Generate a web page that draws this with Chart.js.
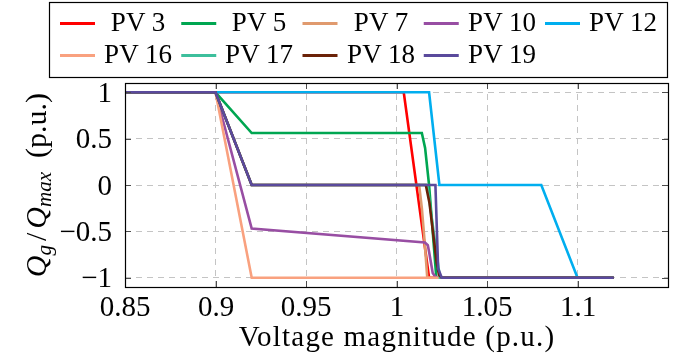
<!DOCTYPE html>
<html>
<head>
<meta charset="utf-8">
<script src="https://cdn.jsdelivr.net/npm/chart.js@4.4.1/dist/chart.umd.min.js"></script>
<style>
html,body{margin:0;padding:0;background:#ffffff;}
#wrap{width:686px;height:362px;position:relative;overflow:hidden;}
#c{position:absolute;left:0;top:0;z-index:1;}
#overlay{position:absolute;left:0;top:0;width:686px;height:362px;z-index:2;pointer-events:none;}
.lbl{position:absolute;white-space:nowrap;font-family:'Liberation Serif';font-size:18px;line-height:18px;color:#000;font-style:normal;}
.lbl i{font-style:italic;}
.lbl .sub{font-size:12.6px;position:relative;top:3px;}
</style>
</head>
<body>
<div id="wrap">
<canvas id="c" width="686" height="362"></canvas>
<div id="overlay"></div>
</div>
<script>
// ---- data ----
const seriesNames = ['PV 3', 'PV 5', 'PV 7', 'PV 10', 'PV 12', 'PV 16', 'PV 17', 'PV 18', 'PV 19'];
const seriesColors = ['#ff0000', '#00a651', '#e09a6e', '#984ea3', '#00aeef', '#f9a17f', '#3dbf9c', '#6b2208', '#5a4a9c'];

const pv3V  = [0.85, 0.90, 1.004, 1.018, 1.12];
const pv3Q  = [1, 1, 1, -1, -1];
const pv5V  = [0.85, 0.90, 0.92, 1.014, 1.0158, 1.018, 1.022, 1.12];
const pv5Q  = [1, 1, 0.56, 0.56, 0.40, 0, -1, -1];
const pv7V  = [0.85, 0.90, 0.92, 1.0125, 1.014, 1.0155, 1.017, 1.12];
const pv7Q  = [1, 1, 0, 0, -0.25, -0.6, -1, -1];
const pv10V = [0.85, 0.90, 0.92, 1.0157, 1.0173, 1.018, 1.020, 1.0215, 1.023, 1.12];
const pv10Q = [1, 1, -0.47, -0.62, -0.65, -0.72, -0.95, -0.99, -1, -1];
const pv12V = [0.85, 0.90, 1.018, 1.0237, 1.08, 1.10, 1.12];
const pv12Q = [1, 1, 1, 0, 0, -1, -1];
const pv16V = [0.85, 0.90, 0.92, 1.12];
const pv16Q = [1, 1, -1, -1];
const pv17V = [0.85, 0.90, 0.92, 1.017, 1.024, 1.12];
const pv17Q = [1, 1, 0, 0, -1, -1];
const pv18V = [0.85, 0.90, 0.92, 1.0162, 1.0182, 1.0204, 1.0222, 1.0235, 1.025, 1.12];
const pv18Q = [1, 1, 0, 0, -0.19, -0.55, -0.84, -0.97, -1, -1];
const pv19V = [0.85, 0.90, 0.92, 1.0215, 1.023, 1.025, 1.12];
const pv19Q = [1, 1, 0, 0, -0.9, -1, -1];

const seriesV = [pv3V, pv5V, pv7V, pv10V, pv12V, pv16V, pv17V, pv18V, pv19V];
const seriesQ = [pv3Q, pv5Q, pv7Q, pv10Q, pv12Q, pv16Q, pv17Q, pv18Q, pv19Q];

const xTickValues = [0.85, 0.9, 0.95, 1, 1.05, 1.1];
const yTickValues = [-1, -0.5, 0, 0.5, 1];
const xTitle = 'Voltage magnitude (p.u.)';

function fmt(v) {
  const s = String(Math.abs(v));
  return v < 0 ? '\u2212' + s : s;
}

// legend geometry
const LEG_COL0 = 60, LEG_STEP = 121.25, LEG_PER_ROW = 5;
const LEG_LINE_Y = [23.5, 55.5];
const LEG_BASE_Y = [31, 63];

const datasets = seriesNames.map((name, i) => ({
  label: name,
  data: seriesV[i].map((v, k) => ({ x: v, y: seriesQ[i][k] })),
  borderColor: seriesColors[i],
  backgroundColor: seriesColors[i],
  borderWidth: 2.6,
  pointRadius: 0,
  tension: 0,
  fill: false,
  order: seriesNames.length - i
}));

const framePlugin = {
  id: 'frame',
  afterDraw(chart) {
    const ctx = chart.ctx;
    const a = chart.chartArea;
    const xs = chart.scales.x, ys = chart.scales.y;
    ctx.save();
    ctx.strokeStyle = '#4d4d4d';
    ctx.lineWidth = 1;
    ctx.beginPath();
    xTickValues.forEach(v => {
      const px = Math.round(xs.getPixelForValue(v)) + 0.5;
      ctx.moveTo(px, a.bottom); ctx.lineTo(px, a.bottom - 6);
      ctx.moveTo(px, a.top); ctx.lineTo(px, a.top + 6);
    });
    yTickValues.forEach(v => {
      const py = Math.round(ys.getPixelForValue(v)) + 0.5;
      ctx.moveTo(a.left, py); ctx.lineTo(a.left + 6, py);
      ctx.moveTo(a.right, py); ctx.lineTo(a.right - 6, py);
    });
    ctx.stroke();
    ctx.strokeStyle = '#000';
    ctx.lineWidth = 1.2;
    ctx.strokeRect(Math.round(a.left) + 0.5, Math.round(a.top) + 0.5,
                   Math.round(a.right - a.left), Math.round(a.bottom - a.top));
    // legend box and line samples
    ctx.strokeRect(49.5, 2.5, 618, 75);
    seriesNames.forEach((name, i) => {
      const r = Math.floor(i / LEG_PER_ROW), c = i % LEG_PER_ROW;
      const x0 = LEG_COL0 + c * LEG_STEP;
      ctx.strokeStyle = seriesColors[i];
      ctx.lineWidth = 3;
      ctx.beginPath();
      ctx.moveTo(x0, LEG_LINE_Y[r]);
      ctx.lineTo(x0 + 35, LEG_LINE_Y[r]);
      ctx.stroke();
    });
    ctx.restore();
  }
};

const chart = new Chart(document.getElementById('c'), {
  type: 'line',
  data: { datasets },
  options: {
    responsive: false,
    devicePixelRatio: 1,
    animation: false,
    layout: { padding: { top: 83, right: 18, left: 0, bottom: 0 } },
    plugins: { legend: { display: false }, tooltip: { enabled: false }, title: { display: false } },
    scales: {
      x: {
        type: 'linear',
        min: 0.85, max: 1.15,
        afterFit(s) { s.height = 75; },
        afterBuildTicks(s) { s.ticks = xTickValues.map(v => ({ value: v })); },
        ticks: { display: false, autoSkip: false, maxRotation: 0 },
        grid: { color: '#c4c4c4', lineWidth: 1, drawTicks: false },
        border: { display: false, dash: [6, 5] },
        title: { display: false }
      },
      y: {
        type: 'linear',
        min: -1.1, max: 1.1,
        afterFit(s) { s.width = 125; },
        afterBuildTicks(s) { s.ticks = yTickValues.map(v => ({ value: v })); },
        ticks: { display: false, autoSkip: false },
        grid: { color: '#c4c4c4', lineWidth: 1, drawTicks: false },
        border: { display: false, dash: [6, 5] },
        title: { display: false }
      }
    }
  },
  plugins: [framePlugin]
});

// ---- text as real HTML text, set at 18px (where the serif face is used) and scaled ----
const BASE = 18, BASE_ASC = 15.07;
const overlay = document.getElementById('overlay');
function addText(content, x, y, size, align, opts) {
  opts = opts || {};
  const el = document.createElement('div');
  el.className = 'lbl';
  if (opts.html) el.innerHTML = content; else el.textContent = content;
  const k = size / BASE;
  el.style.left = x + 'px';
  el.style.top = (y - BASE_ASC) + 'px';
  const ox = align === 'center' ? '50%' : align === 'right' ? '100%' : '0';
  const tx = align === 'center' ? '-50%' : align === 'right' ? '-100%' : '0';
  el.style.transformOrigin = ox + ' ' + BASE_ASC + 'px';
  el.style.transform = 'translateX(' + tx + ') ' + (opts.rotate ? 'rotate(-90deg) ' : '') + 'scale(' + k + ')';
  if (opts.spacing) el.style.letterSpacing = (opts.spacing / k) + 'px';
  overlay.appendChild(el);
}

const area = chart.chartArea;
const xScale = chart.scales.x, yScale = chart.scales.y;
xTickValues.forEach(v => addText(fmt(v), xScale.getPixelForValue(v), 316, 29, 'center'));
yTickValues.forEach(v => addText(fmt(v), 112, yScale.getPixelForValue(v) + 9.6, 29, 'right'));
addText(xTitle, (area.left + area.right) / 2, 346, 29, 'center', { spacing: 1.2 });
addText('<i>Q</i><span class="sub"><i>g</i></span><span style="padding:0 2.4px">/</span><i>Q</i><span class="sub"><i>max</i></span><span style="padding-left:8.4px">(p.u.)</span>',
        46, (area.top + area.bottom) / 2, 30, 'center', { html: true, rotate: true });
seriesNames.forEach((name, i) => {
  const r = Math.floor(i / LEG_PER_ROW), c = i % LEG_PER_ROW;
  addText(name, LEG_COL0 + c * LEG_STEP + 78, LEG_BASE_Y[r], 27, 'center');
});
</script>
</body>
</html>
